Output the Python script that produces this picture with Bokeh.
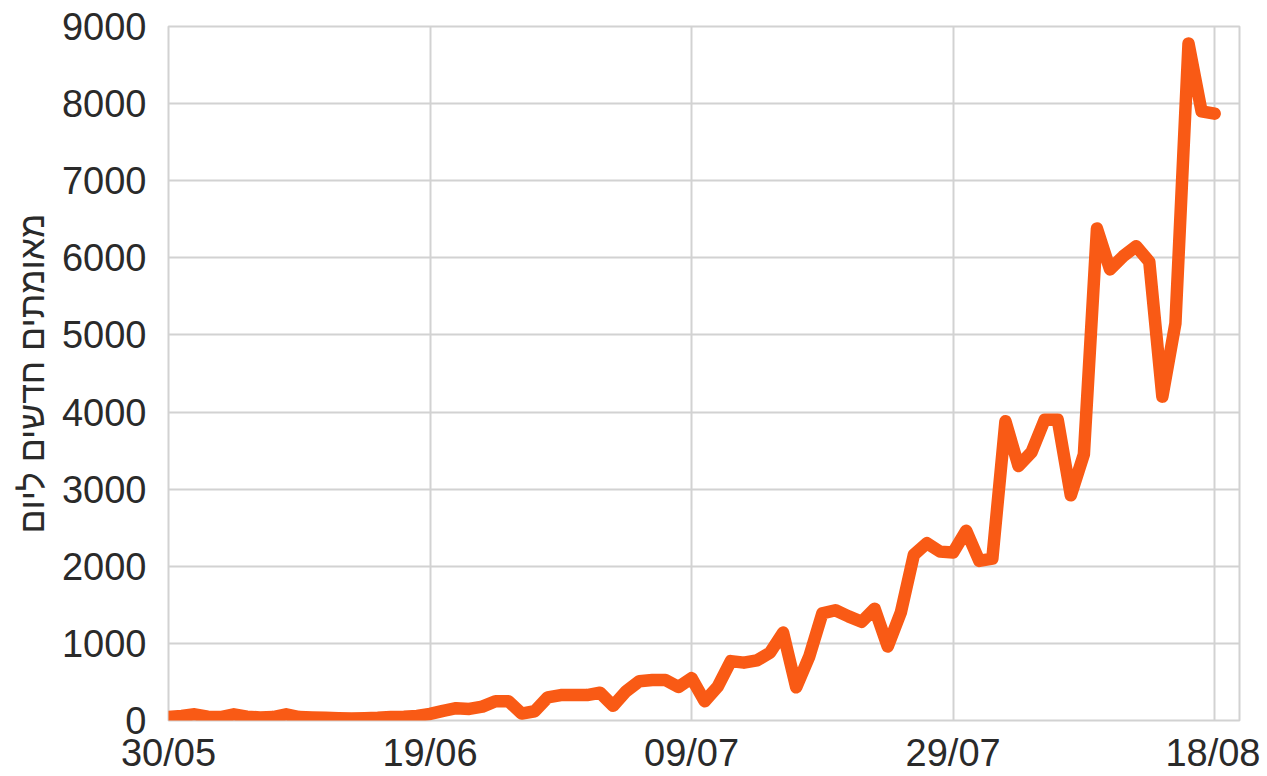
from bokeh.plotting import figure
from bokeh.models import FixedTicker, Range1d
from bokeh.embed import file_html
from bokeh.resources import INLINE

# day index from 30/05
days = list(range(81))
cases = [45, 60, 80, 50, 45, 80, 50, 40, 45, 80,
         45, 40, 35, 30, 25, 30, 35, 45, 50, 60,
         85, 125, 160, 150, 180, 250, 250, 90, 120, 300,
         330, 330, 330, 360, 190, 380, 510, 525, 525, 435,
         550, 250, 440, 770, 750, 780, 880, 1140, 430, 830,
         1390, 1430, 1350, 1280, 1450, 960, 1400, 2150, 2300, 2190,
         2180, 2460, 2070, 2100, 3880, 3300, 3480, 3900, 3900, 2920,
         3450, 6380, 5850, 6020, 6150, 5950, 4200, 5150, 8780, 7900,
         7870]
tick_days = [0, 20, 40, 60, 80]
tick_labels = ["30/05", "19/06", "09/07", "29/07", "18/08"]
y_ticks = [0, 1000, 2000, 3000, 4000, 5000, 6000, 7000, 8000, 9000]
y_label = "מאומתים חדשים ליום"

FONT = "Liberation Sans"
GRID = "#d2d2d2"
TXT = "#2a2a2a"

p = figure(width=1260, height=776, output_backend="svg", toolbar_location=None,
           x_range=Range1d(0, 81.9), y_range=Range1d(0, 9000),
           min_border_left=168, min_border_top=26, min_border_right=21, min_border_bottom=55)

p.line(days, cases, line_color="#f95a15", line_width=12.5,
       line_join="round", line_cap="round")

p.outline_line_color = GRID
p.outline_line_width = 2
p.background_fill_color = "white"

p.xaxis.ticker = FixedTicker(ticks=tick_days)
p.xaxis.major_label_overrides = {d: l for d, l in zip(tick_days, tick_labels)}
p.yaxis.ticker = FixedTicker(ticks=y_ticks)

for ax in (p.xaxis, p.yaxis):
    ax.axis_line_color = None
    ax.major_tick_line_color = None
    ax.minor_tick_line_color = None
    ax.major_label_text_font = FONT
    ax.major_label_text_font_size = "38px"
    ax.major_label_text_color = TXT

p.xaxis.major_label_standoff = 5
p.yaxis.major_label_standoff = 16

p.yaxis.axis_label = y_label
p.yaxis.axis_label_text_font = FONT
p.yaxis.axis_label_text_font_size = "35.5px"
p.yaxis.axis_label_text_font_style = "normal"
p.yaxis.axis_label_text_color = TXT
p.yaxis.axis_label_standoff = 7

p.xgrid.grid_line_color = GRID
p.xgrid.grid_line_width = 2
p.ygrid.grid_line_color = GRID
p.ygrid.grid_line_width = 2

open("out.html", "w").write(file_html(p, INLINE))
